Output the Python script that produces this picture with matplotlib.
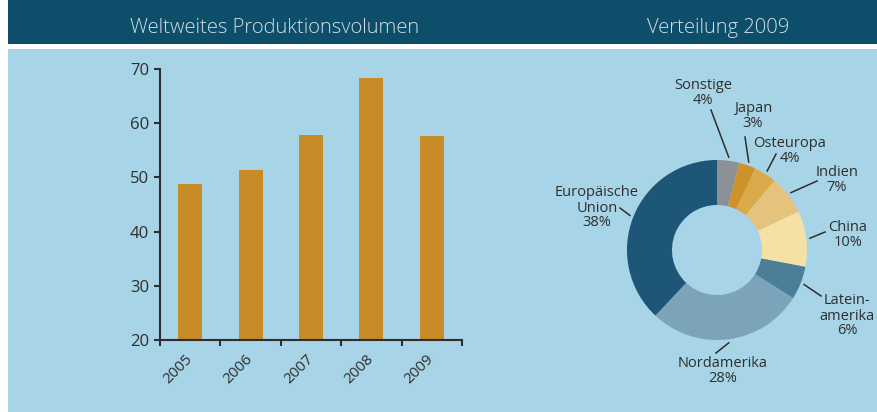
import numpy as np
import matplotlib
matplotlib.use("Agg")
import matplotlib.pyplot as plt
from matplotlib.patches import Rectangle

plt.rcParams['font.family'] = ['Open Sans', 'DejaVu Sans']

# data
years = ['2005', '2006', '2007', '2008', '2009']
volume = [48.7, 51.3, 57.9, 68.4, 57.6]

regions = ['Sonstige', 'Japan', 'Osteuropa', 'Indien', 'China',
           'Lateinamerika', 'Nordamerika', 'Europäische Union']
label_text = ['Sonstige\n4%', 'Japan\n3%', 'Osteuropa\n4%', 'Indien\n7%',
              'China\n10%', 'Latein-\namerika\n6%', 'Nordamerika\n28%',
              'Europäische\nUnion\n38%']
share = [4, 3, 4, 7, 10, 6, 28, 38]

# colours
header_col = '#0d4f6a'
bg_col = '#a8d4e7'
bar_col = '#c68a27'
ink = '#2e2e2e'
slice_cols = ['#8b9196', '#cf9229', '#d9a94a', '#e5c37c', '#f5e1a4',
              '#4a7f97', '#7ba4ba', '#1d5677']

W, H = 877, 412
fig = plt.figure(figsize=(W / 100, H / 100), dpi=100, facecolor='white')


def fx(px):
    return px / W


def fy(py):
    return 1 - py / H


# header band and background
fig.add_artist(Rectangle((fx(8), fy(44)), 1 - fx(8), 44 / H,
                         transform=fig.transFigure, color=header_col, lw=0,
                         zorder=-10))
fig.add_artist(Rectangle((fx(8), 0), 1 - fx(8), fy(49),
                         transform=fig.transFigure, color=bg_col, lw=0,
                         zorder=-10))
fig.text(fx(275), fy(28), 'Weltweites Produktionsvolumen', color='#d3e0e6',
         fontsize=14.5, ha='center', va='center', fontweight='light')
fig.text(fx(718), fy(28), 'Verteilung 2009', color='#d3e0e6',
         fontsize=14.5, ha='center', va='center', fontweight='light')

# bar chart
ax = fig.add_axes([fx(160), fy(340), 302 / W, 271 / H])
ax.patch.set_visible(False)
x = np.arange(len(years))
ax.bar(x, volume, width=0.4, color=bar_col, bottom=0)
ax.set_ylim(20, 70)
ax.set_xlim(-0.5, len(years) - 0.5)
ax.set_yticks(range(20, 71, 10))
ax.set_xticks(np.arange(len(years) + 1) - 0.5)
ax.set_xticklabels([])
ax.set_xticks(x, minor=True)
ax.set_xticklabels(years, minor=True, rotation=45, ha='right', va='center',
                   rotation_mode='anchor', fontsize=11, color=ink)
ax.tick_params(axis='x', which='minor', length=0, pad=12)
ax.tick_params(axis='x', which='major', length=4, width=1.5, color=ink)
ax.tick_params(axis='y', length=4, width=1.5, color=ink, labelsize=12,
               labelcolor=ink, pad=4)
for lab in ax.get_yticklabels():
    lab.set_fontweight('medium')
for s in ['top', 'right']:
    ax.spines[s].set_visible(False)
for s in ['left', 'bottom']:
    ax.spines[s].set_color(ink)
    ax.spines[s].set_linewidth(1.5)

# donut chart, axes in pixel units (y flipped)
dx0, dy0 = 540, 49
dax = fig.add_axes([fx(dx0), 0, (W - dx0) / W, (H - dy0) / H])
cx, cy, r = 717, 250, 90


def P(px, py):
    return px, H - py


wedges, _ = dax.pie(share, colors=slice_cols, startangle=90, counterclock=False,
                    radius=r, center=P(cx, cy),
                    wedgeprops=dict(width=r * 0.5, linewidth=0))
dax.set_xlim(dx0, W)
dax.set_ylim(0, H - dy0)
dax.axis('off')

# label positions (pixel coords) and outer ends of leader lines
label_pos = [(703, 93), (753, 116), (790, 151), (837, 180), (848, 235),
             (847, 316), (723, 371), (597, 208)]
line_end = [(711, 110), (745, 137), (776, 154), (817, 181), (825, 232),
            (821, 296), (716, 353), (620, 208)]

for w, txt, lp, le in zip(wedges, label_text, label_pos, line_end):
    ang = np.deg2rad((w.theta1 + w.theta2) / 2)
    sx = cx + 1.04 * r * np.cos(ang)
    sy = cy - 1.04 * r * np.sin(ang)
    dax.plot([sx, le[0]], [H - sy, H - le[1]], color=ink, lw=1.1)
    dax.text(*P(*lp), txt, ha='center', va='center', fontsize=10.5,
             color=ink, linespacing=1.0)

fig.savefig('out.png', dpi=100, facecolor='white')
